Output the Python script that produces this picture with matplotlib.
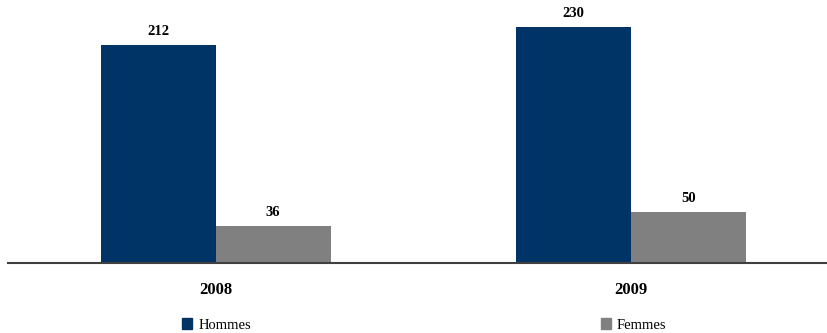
import matplotlib
matplotlib.use("Agg")
import matplotlib.pyplot as plt
import numpy as np
from matplotlib.patches import Patch

years = ["2008", "2009"]
hommes = [212, 230]
femmes = [36, 50]
series_names = ["Hommes", "Femmes"]
colors = ["#003366", "#808080"]

plt.rcParams['font.family'] = ['Liberation Serif', 'DejaVu Serif']

fig = plt.figure(figsize=(8.27, 3.33), dpi=100)
ax = fig.add_axes([8/827, 70/333, 1 - 8/827, (263-6)/333])

x = np.arange(len(years))
w = 0.277
b1 = ax.bar(x - w/2, hommes, width=w, color=colors[0])
b2 = ax.bar(x + w/2, femmes, width=w, color=colors[1])

for bars, vals in ((b1, hommes), (b2, femmes)):
    for rect, v in zip(bars, vals):
        ax.annotate(str(v), (rect.get_x() + rect.get_width()/2, v),
                    xytext=(0, 5), textcoords="offset points",
                    ha="center", va="bottom", fontsize=10.5, fontweight="bold")

ax.set_xlim(-0.5, 1.473)
ax.set_ylim(0, 250)
ax.set_xticks(x)
ax.set_xticklabels(years, fontsize=12, fontweight="bold")
ax.tick_params(axis="x", length=0, pad=14)
ax.set_yticks([])
for s in ("left", "right", "top"):
    ax.spines[s].set_visible(False)
ax.spines["bottom"].set_color("#404040")
ax.spines["bottom"].set_linewidth(1.5)

handles = [Patch(color=colors[0], label=series_names[0]),
           Patch(color=colors[1], label=series_names[1])]
fig.legend(handles=handles, loc="center", bbox_to_anchor=(0.513, 8/333),
           ncol=2, frameon=False, fontsize=10.5, handlelength=0.7,
           handleheight=0.7, handletextpad=0.4, columnspacing=24)

fig.savefig("out.png", dpi=100)
